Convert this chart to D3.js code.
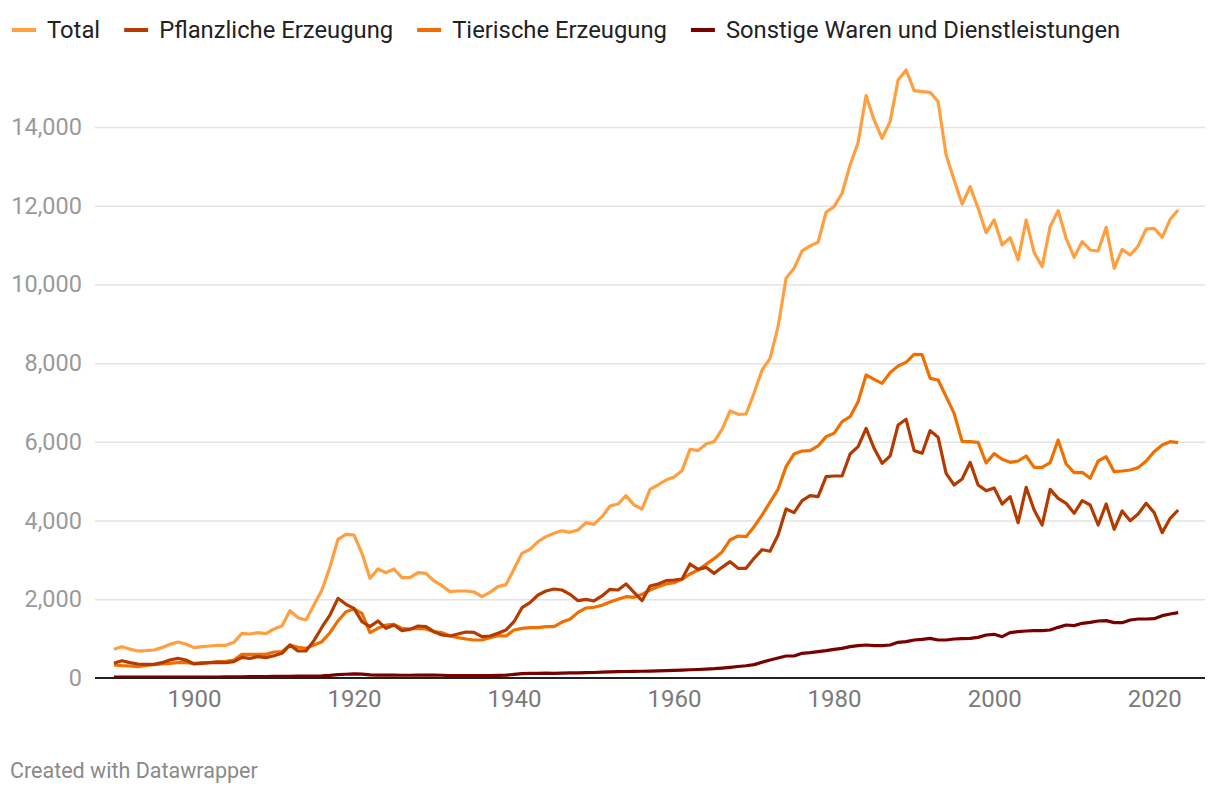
<!DOCTYPE html>
<html>
<head>
<meta charset="utf-8">
<script src="https://cdn.jsdelivr.net/npm/d3@7"></script>
<style>
  html, body { margin: 0; padding: 0; background: #fff; }
  svg { display: block; font-family: Roboto, "Noto Sans", sans-serif; }
</style>
</head>
<body>
<svg id="chart" width="1220" height="794"></svg>
<script>
const years = d3.range(1890, 2024);

const total = [729,796,735,686,695,711,771,855,915,864,771,796,813,830,830,906,1135,1118,1152,1127,1245,1321,1711,1533,1474,1855,2236,2820,3523,3651,3634,3168,2532,2770,2676,2770,2549,2549,2676,2659,2465,2346,2194,2211,2211,2185,2067,2177,2321,2372,2770,3168,3270,3465,3592,3676,3740,3701,3761,3947,3905,4100,4371,4421,4633,4396,4294,4794,4904,5031,5107,5268,5811,5777,5946,6005,6318,6784,6699,6708,7240,7826,8123,8927,10156,10410,10850,10977,11071,11833,11977,12316,13035,13603,14797,14179,13713,14136,15195,15449,14924,14898,14882,14645,13289,12654,12044,12485,11934,11316,11638,11003,11189,10621,11638,10808,10452,11469,11875,11172,10689,11088,10875,10850,11452,10410,10892,10748,10977,11409,11426,11197,11655,11892];

const pflanzlich = [373,440,390,356,347,347,390,457,500,457,356,373,390,398,390,415,525,500,542,517,567,627,838,686,686,950,1290,1600,2024,1872,1770,1431,1304,1448,1262,1347,1203,1236,1321,1304,1177,1093,1067,1118,1169,1160,1050,1067,1135,1220,1431,1787,1914,2109,2211,2261,2236,2126,1965,1999,1957,2084,2253,2236,2389,2177,1965,2338,2389,2473,2490,2516,2897,2761,2812,2659,2812,2956,2786,2786,3040,3260,3220,3634,4294,4201,4506,4633,4608,5116,5133,5133,5692,5878,6344,5836,5455,5641,6429,6573,5777,5709,6285,6115,5201,4904,5057,5480,4904,4760,4830,4421,4608,3947,4845,4269,3888,4794,4565,4438,4184,4506,4396,3888,4421,3778,4243,3998,4167,4438,4201,3693,4057,4269];

const tierisch = [330,313,305,288,322,339,356,373,390,390,373,390,390,415,423,457,601,601,601,601,660,669,838,779,754,838,923,1150,1450,1685,1753,1643,1152,1262,1347,1364,1262,1245,1262,1245,1177,1152,1076,1025,991,966,966,1025,1076,1067,1220,1262,1279,1279,1304,1304,1420,1491,1668,1779,1796,1847,1931,1999,2067,2050,2126,2236,2321,2389,2422,2507,2643,2744,2888,3032,3202,3507,3608,3591,3845,4140,4470,4794,5370,5692,5768,5777,5895,6133,6217,6514,6641,7022,7699,7589,7487,7759,7928,8021,8224,8216,7614,7572,7149,6725,6005,6005,5988,5463,5700,5557,5480,5514,5641,5353,5353,5472,6048,5438,5218,5227,5074,5514,5624,5243,5260,5285,5345,5514,5751,5920,6005,5980];

const sonstige = [20,22,22,22,22,22,24,25,25,25,25,25,26,26,27,28,32,34,35,36,40,42,45,48,48,50,55,65,85,95,105,100,80,75,72,72,70,70,72,75,75,70,62,60,58,58,58,62,68,72,90,110,118,120,122,118,125,128,132,136,140,150,155,160,165,168,172,177,182,186,192,200,210,216,226,236,252,272,292,312,340,400,457,508,559,559,627,643,669,694,728,754,796,822,838,822,822,838,906,923,966,982,1008,966,966,991,1000,1008,1033,1093,1110,1050,1152,1177,1194,1203,1203,1220,1287,1347,1330,1389,1414,1448,1457,1406,1406,1474,1499,1499,1508,1584,1626,1660];

const seriesNames = ["Total", "Pflanzliche Erzeugung", "Tierische Erzeugung", "Sonstige Waren und Dienstleistungen"];
const seriesColors = ["#ff9f40", "#b33b00", "#ef7000", "#780000"];
const yTicks = [0, 2000, 4000, 6000, 8000, 10000, 12000, 14000];
const xTicks = [1900, 1920, 1940, 1960, 1980, 2000, 2020];

const seriesValues = [total, pflanzlich, tierisch, sonstige];

const svg = d3.select("#chart");
svg.append("rect").attr("width", 1220).attr("height", 794).attr("fill", "#fff");

const plot = { left: 95, right: 1205, top: 127, bottom: 678 };

const x = d3.scaleLinear().domain([1887.64, 2026.35]).range([plot.left, plot.right]);
const y = d3.scaleLinear().domain([0, 14000]).range([plot.bottom, plot.top]);

// gridlines + y labels
const yAxis = d3.axisLeft(y).tickValues(yTicks)
  .tickSize(-(plot.right - plot.left))
  .tickPadding(13)
  .tickFormat(d3.format(","));
const gy = svg.append("g").attr("transform", `translate(${plot.left},0)`).call(yAxis);
gy.select(".domain").remove();
gy.selectAll(".tick line").attr("stroke", "#e3e3e3").attr("stroke-width", 1.5);
gy.selectAll(".tick text").attr("fill", "#9a9a9a").attr("font-size", 23.5).attr("font-family", "Roboto");
gy.selectAll(".tick").filter(d => d === 0).select("line").attr("stroke", "none");

// x axis labels
const xAxis = d3.axisBottom(x).tickValues(xTicks).tickSize(0).tickPadding(12).tickFormat(d3.format("d"));
const gx = svg.append("g").attr("transform", `translate(0,${plot.bottom})`).call(xAxis);
gx.select(".domain").remove();
gx.selectAll(".tick text").attr("fill", "#7a7a7a").attr("font-size", 24).attr("font-family", "Roboto");

// lines
const line = d3.line().x((d, i) => x(years[i])).y(d => y(d));
const drawOrder = [0, 2, 1, 3];
drawOrder.forEach(k => {
  svg.append("path")
    .datum(seriesValues[k])
    .attr("fill", "none")
    .attr("stroke", seriesColors[k])
    .attr("stroke-width", 3.2)
    .attr("stroke-linejoin", "round")
    .attr("d", line);
});

// baseline
svg.append("line")
  .attr("x1", plot.left).attr("x2", plot.right)
  .attr("y1", y(0)).attr("y2", y(0))
  .attr("stroke", "#222").attr("stroke-width", 2);

// legend
const legend = svg.append("g").attr("transform", "translate(12,30)");
let lx = 0;
seriesNames.forEach((name, i) => {
  const g = legend.append("g").attr("transform", `translate(${lx},0)`);
  g.append("line").attr("x1", 0).attr("x2", 24).attr("y1", 0).attr("y2", 0)
    .attr("stroke", seriesColors[i]).attr("stroke-width", 4);
  const t = g.append("text").attr("x", 35).attr("y", 0).attr("dy", "0.35em")
    .attr("font-size", 23.8).attr("fill", "#222").text(name);
  lx += 35 + t.node().getComputedTextLength() + 24;
});

// footer
svg.append("text").attr("x", 10).attr("y", 778)
  .attr("font-size", 21.5).attr("fill", "#8a8a8a").text("Created with Datawrapper");
</script>
</body>
</html>
